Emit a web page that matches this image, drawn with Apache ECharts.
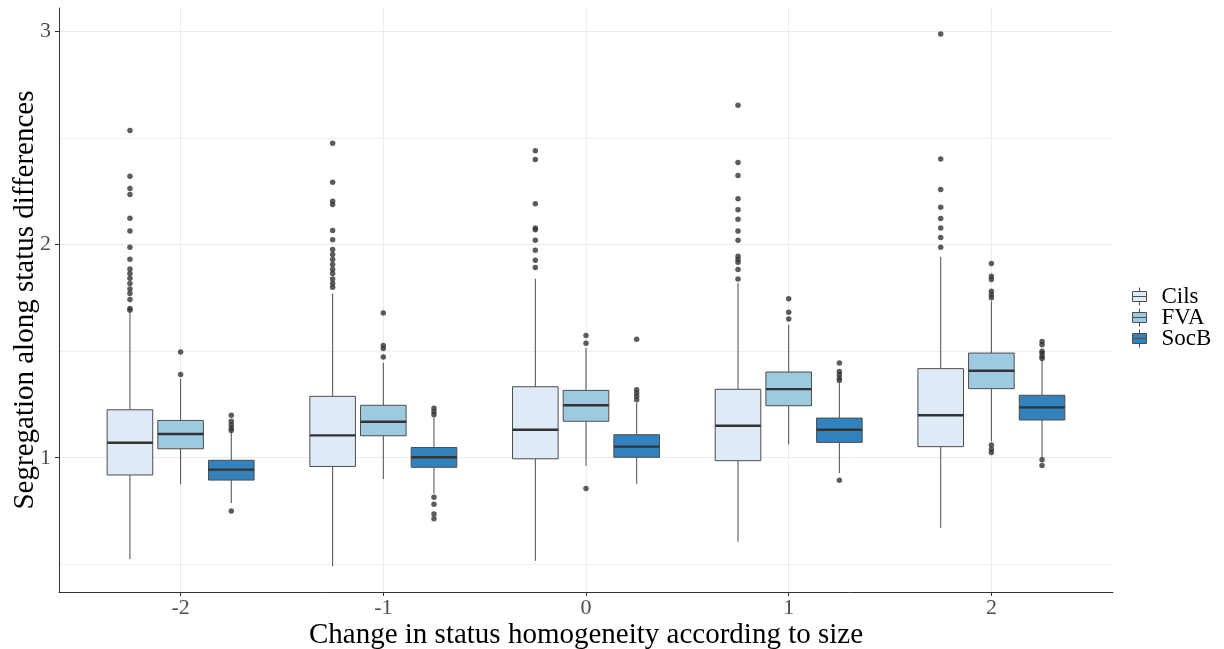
<!DOCTYPE html>
<html>
<head>
<meta charset="utf-8">
<script src="https://cdn.jsdelivr.net/npm/echarts@6/dist/echarts.min.js"></script>
<style>
  html, body { margin: 0; padding: 0; background: #ffffff; }
  #chart { width: 1224px; height: 649px; }
</style>
</head>
<body>
<div id="chart"></div>
<script>
// Groups on the x axis (change in status homogeneity according to size)
const groups = [-2, -1, 0, 1, 2];
const seriesNames = ['Cils', 'FVA', 'SocB'];
const yTicks = [1, 2, 3];
const yMinorLines = [0.5, 1.5, 2.5];

// Box statistics per group: [lower whisker, Q1, median, Q3, upper whisker]
const cilsStats = [
  [0.524, 0.919, 1.070, 1.225, 1.679],
  [0.490, 0.959, 1.105, 1.288, 1.770],
  [0.516, 0.995, 1.131, 1.333, 1.840],
  [0.606, 0.986, 1.150, 1.321, 1.820],
  [0.671, 1.052, 1.199, 1.418, 1.942]
];
const fvaStats = [
  [0.877, 1.042, 1.111, 1.175, 1.369],
  [0.900, 1.103, 1.169, 1.246, 1.445],
  [0.962, 1.171, 1.246, 1.316, 1.515],
  [1.063, 1.244, 1.322, 1.402, 1.624],
  [1.077, 1.324, 1.408, 1.491, 1.734]
];
const socbStats = [
  [0.787, 0.895, 0.944, 0.988, 1.124],
  [0.831, 0.955, 1.002, 1.048, 1.189],
  [0.877, 1.002, 1.052, 1.108, 1.257],
  [0.928, 1.072, 1.131, 1.186, 1.351],
  [0.998, 1.177, 1.236, 1.293, 1.455]
];

// Outlying values per group
const cilsOutliers = [
  [2.535, 2.321, 2.263, 2.235, 2.124, 2.064, 1.987, 1.931, 1.886, 1.864, 1.842, 1.817, 1.792, 1.770, 1.742, 1.700, 1.692],
  [2.476, 2.293, 2.203, 2.188, 2.066, 2.023, 1.977, 1.953, 1.930, 1.906, 1.883, 1.864, 1.839, 1.817, 1.800],
  [2.440, 2.399, 2.191, 2.078, 2.070, 2.020, 1.973, 1.926, 1.892],
  [2.654, 2.385, 2.324, 2.215, 2.164, 2.119, 2.064, 2.020, 1.945, 1.930, 1.917, 1.883, 1.839],
  [2.988, 2.402, 2.258, 2.175, 2.122, 2.078, 2.033, 1.987]
];
const fvaOutliers = [
  [1.496, 1.390],
  [1.679, 1.526, 1.513, 1.473],
  [1.574, 1.537, 0.856],
  [1.746, 1.682, 1.651],
  [1.911, 1.851, 1.836, 1.781, 1.765, 1.750, 1.060, 1.040, 1.025]
];
const socbOutliers = [
  [1.199, 1.171, 1.155, 1.139, 1.128, 0.750],
  [1.232, 1.216, 1.202, 0.814, 0.782, 0.736, 0.714],
  [1.556, 1.319, 1.304, 1.288, 1.272],
  [1.445, 1.405, 1.390, 1.374, 1.362, 0.894],
  [1.545, 1.530, 1.500, 1.490, 1.475, 1.465, 0.991, 0.964]
];

const fills = ['#deebf7', '#9ecae1', '#3182bd'];
const allStats = [cilsStats, fvaStats, socbStats];
const allOutliers = [cilsOutliers, fvaOutliers, socbOutliers];

const DODGE = 0.25;      // horizontal offset between boxes in a group
const BOX_W = 0.225;     // box width in x-axis units
const LINE = '#4d4d4d';
const SERIF = "'Liberation Serif', 'DejaVu Serif', serif";

function renderBox(params, api) {
  const x = api.value(0);
  const lo = api.coord([x, api.value(1)]);
  const q1 = api.coord([x, api.value(2)]);
  const med = api.coord([x, api.value(3)]);
  const q3 = api.coord([x, api.value(4)]);
  const hi = api.coord([x, api.value(5)]);
  const half = api.size([BOX_W, 0])[0] / 2;
  const cx = lo[0];
  const fill = api.visual('color');
  return {
    type: 'group',
    children: [
      { type: 'line', shape: { x1: cx, y1: q3[1], x2: cx, y2: hi[1] },
        style: { stroke: LINE, lineWidth: 1 } },
      { type: 'line', shape: { x1: cx, y1: q1[1], x2: cx, y2: lo[1] },
        style: { stroke: LINE, lineWidth: 1 } },
      { type: 'rect', shape: { x: cx - half, y: q3[1], width: half * 2, height: q1[1] - q3[1] },
        style: { fill: fill, stroke: LINE, lineWidth: 1 } },
      { type: 'line', shape: { x1: cx - half, y1: med[1], x2: cx + half, y2: med[1] },
        style: { stroke: '#333333', lineWidth: 2.4 } }
    ]
  };
}

const series = [];
seriesNames.forEach(function (name, s) {
  const offset = (s - 1) * DODGE;
  series.push({
    name: name,
    type: 'custom',
    renderItem: renderBox,
    itemStyle: { color: fills[s], borderColor: LINE, borderWidth: 1 },
    encode: { x: 0, y: [1, 2, 3, 4, 5] },
    data: groups.map(function (g, i) { return [g + offset].concat(allStats[s][i]); }),
    z: 2
  });
  const pts = [];
  groups.forEach(function (g, i) {
    allOutliers[s][i].forEach(function (v) { pts.push([g + offset, v]); });
  });
  series.push({
    name: name + ' outliers',
    type: 'scatter',
    symbol: 'circle',
    symbolSize: 5.5,
    itemStyle: { color: '#333333' },
    data: pts,
    z: 3,
    silent: true
  });
});

const chart = echarts.init(document.getElementById('chart'), null, { renderer: 'canvas' });
chart.setOption({
  backgroundColor: '#ffffff',
  animation: false,
  grid: { left: 59, right: 111, top: 8, bottom: 57, containLabel: false, outerBoundsMode: 'none' },
  legend: {
    data: seriesNames,
    orient: 'vertical',
    left: 1127,
    top: 280,
    itemWidth: 34,
    itemHeight: 18,
    itemGap: -2,
    icon: 'path://M7,0V4M0,4H14V14H0ZM0,9H14M7,14V18',
    itemStyle: { borderColor: LINE, borderWidth: 1 },
    textStyle: { fontFamily: SERIF, fontSize: 23, lineHeight: 18, color: '#000000' }
  },
  xAxis: {
    type: 'value',
    min: -2.6,
    max: 2.6,
    name: 'Change in status homogeneity according to size',
    nameLocation: 'middle',
    nameGap: 29,
    nameMoveOverlap: false,
    nameTextStyle: { fontFamily: SERIF, fontSize: 29, color: '#000000' },
    axisLine: { show: true, onZero: false, lineStyle: { color: '#333333', width: 1 } },
    axisTick: { show: true, length: 4, customValues: groups, lineStyle: { color: '#333333' } },
    axisLabel: {
      customValues: groups,
      fontFamily: SERIF, fontSize: 22, color: '#4d4d4d', margin: 5,
      formatter: function (v) { return String(v); }
    },
    splitLine: { show: true, lineStyle: { color: '#ebebeb', width: 1 } }
  },
  yAxis: [
    {
      type: 'value',
      min: 0.37,
      max: 3.11,
      name: 'Segregation along status differences',
      nameLocation: 'middle',
      nameGap: 19,
      nameMoveOverlap: false,
      nameRotate: 90,
      nameTextStyle: { fontFamily: SERIF, fontSize: 29, color: '#000000' },
      axisLine: { show: true, onZero: false, lineStyle: { color: '#333333', width: 1 } },
      axisTick: { show: true, length: 4, customValues: yTicks, lineStyle: { color: '#333333' } },
      axisLabel: {
        customValues: yTicks,
        fontFamily: SERIF, fontSize: 22, color: '#4d4d4d', margin: 8,
        formatter: function (v) { return String(v); }
      },
      splitLine: { show: true, lineStyle: { color: '#ebebeb', width: 1 } }
    },
    {
      type: 'value',
      min: 0.37,
      max: 3.11,
      position: 'left',
      axisLine: { show: false },
      axisTick: { show: false, customValues: yMinorLines },
      axisLabel: { show: false, customValues: yMinorLines },
      splitLine: { show: true, lineStyle: { color: '#f0f0f0', width: 1 } }
    }
  ],
  series: series
});
</script>
</body>
</html>
